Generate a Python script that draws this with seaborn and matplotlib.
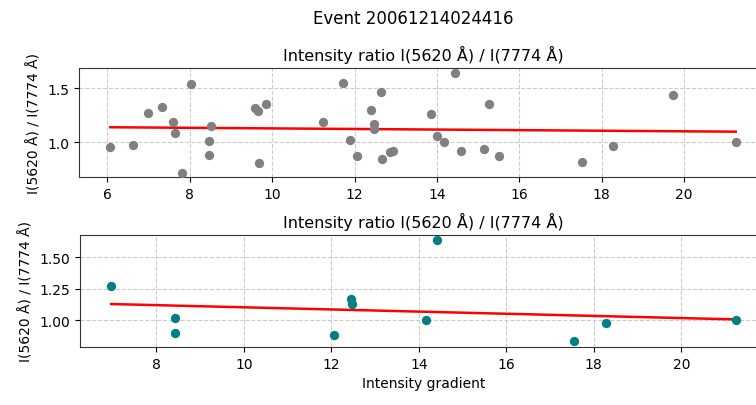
import matplotlib
matplotlib.use("Agg")
import matplotlib.pyplot as plt
import seaborn as sns
import pandas as pd

# All events (top panel)
all_x = [6.07, 6.63, 6.99, 7.33, 7.60, 7.64, 7.80, 8.04, 8.51, 8.46, 8.46, 9.58, 9.65, 9.67,
         9.86, 11.24, 11.72, 11.89, 12.07, 12.40, 12.47, 12.47, 12.63, 12.66, 12.86, 12.92,
         13.85, 14.01, 14.17, 14.43, 14.59, 15.13, 15.26, 15.50, 17.53, 18.28, 19.73, 21.25]
all_y = [0.955, 0.975, 1.265, 1.32, 1.19, 1.08, 0.71, 1.54, 1.15, 1.01, 0.88, 1.315, 1.29, 0.81,
         1.356, 1.19, 1.55, 1.02, 0.87, 1.30, 1.17, 1.12, 1.465, 0.84, 0.905, 0.92,
         1.256, 1.06, 1.0, 1.64, 0.916, 0.934, 1.356, 0.869, 0.815, 0.965, 1.434, 1.0]

# Selected events (bottom panel)
sel_x = [6.97, 8.43, 8.43, 12.07, 12.44, 12.47, 14.42, 14.16, 17.54, 18.27, 21.25]
sel_y = [1.267, 1.018, 0.897, 0.88, 1.169, 1.127, 1.637, 1.003, 0.836, 0.974, 1.003]

# Fit lines (endpoints)
fit_top_x = [6.07, 21.25]
fit_top_y = [1.137, 1.096]
fit_bot_x = [6.97, 21.25]
fit_bot_y = [1.127, 1.005]

# Tick labels
top_xticks = [6, 8, 10, 12, 14, 16, 18, 20]
bot_xticks = [8, 10, 12, 14, 16, 18, 20]
top_yticks = [1.0, 1.5]
bot_yticks = [1.0, 1.25, 1.5]

suptitle = "Event 20061214024416"
title = "Intensity ratio I(5620 Å) / I(7774 Å)"
ylabel = "I(5620 Å) / I(7774 Å)"
xlabel = "Intensity gradient"

plt.rcParams['font.family'] = ['DejaVu Sans']

W, H = 756, 406
fig = plt.figure(figsize=(W / 100, H / 100), dpi=100)
right = 767
ax1 = fig.add_axes([79 / W, 1 - 178 / H, (right - 79) / W, (178 - 69) / H])
ax2 = fig.add_axes([80 / W, 1 - 348 / H, (right - 80) / W, (348 - 236) / H])

df_all = pd.DataFrame({"x": all_x, "y": all_y})
df_sel = pd.DataFrame({"x": sel_x, "y": sel_y})
df_ft = pd.DataFrame({"x": fit_top_x, "y": fit_top_y})
df_fb = pd.DataFrame({"x": fit_bot_x, "y": fit_bot_y})

sns.scatterplot(data=df_all, x="x", y="y", ax=ax1, color="gray", s=45, linewidth=0, zorder=3)
sns.lineplot(data=df_ft, x="x", y="y", ax=ax1, color="red", linewidth=1.8, zorder=2)
sns.scatterplot(data=df_sel, x="x", y="y", ax=ax2, color="teal", s=45, linewidth=0, zorder=3)
sns.lineplot(data=df_fb, x="x", y="y", ax=ax2, color="red", linewidth=1.8, zorder=2)

ax1.set_xlim(5.31, 22.01)
ax2.set_xlim(6.256, 21.96)
ax1.set_ylim(0.676, 1.686)
ax2.set_ylim(0.786, 1.675)
ax1.set_xticks(top_xticks)
ax2.set_xticks(bot_xticks)
ax1.set_yticks(top_yticks)
ax2.set_yticks(bot_yticks)

for ax in (ax1, ax2):
    ax.set_title(title, fontsize=11.5)
    ax.set_ylabel(ylabel, fontsize=10)
    ax.grid(True, linestyle="--", color="#cccccc", linewidth=0.8)
    ax.set_axisbelow(True)
    ax.tick_params(labelsize=10)
    for sp in ax.spines.values():
        sp.set_color("#333333")
ax1.set_xlabel("")
ax2.set_xlabel(xlabel, fontsize=10)

fig.suptitle(suptitle, fontsize=12, x=413 / W, y=0.975)
fig.savefig("out.png", dpi=100)
